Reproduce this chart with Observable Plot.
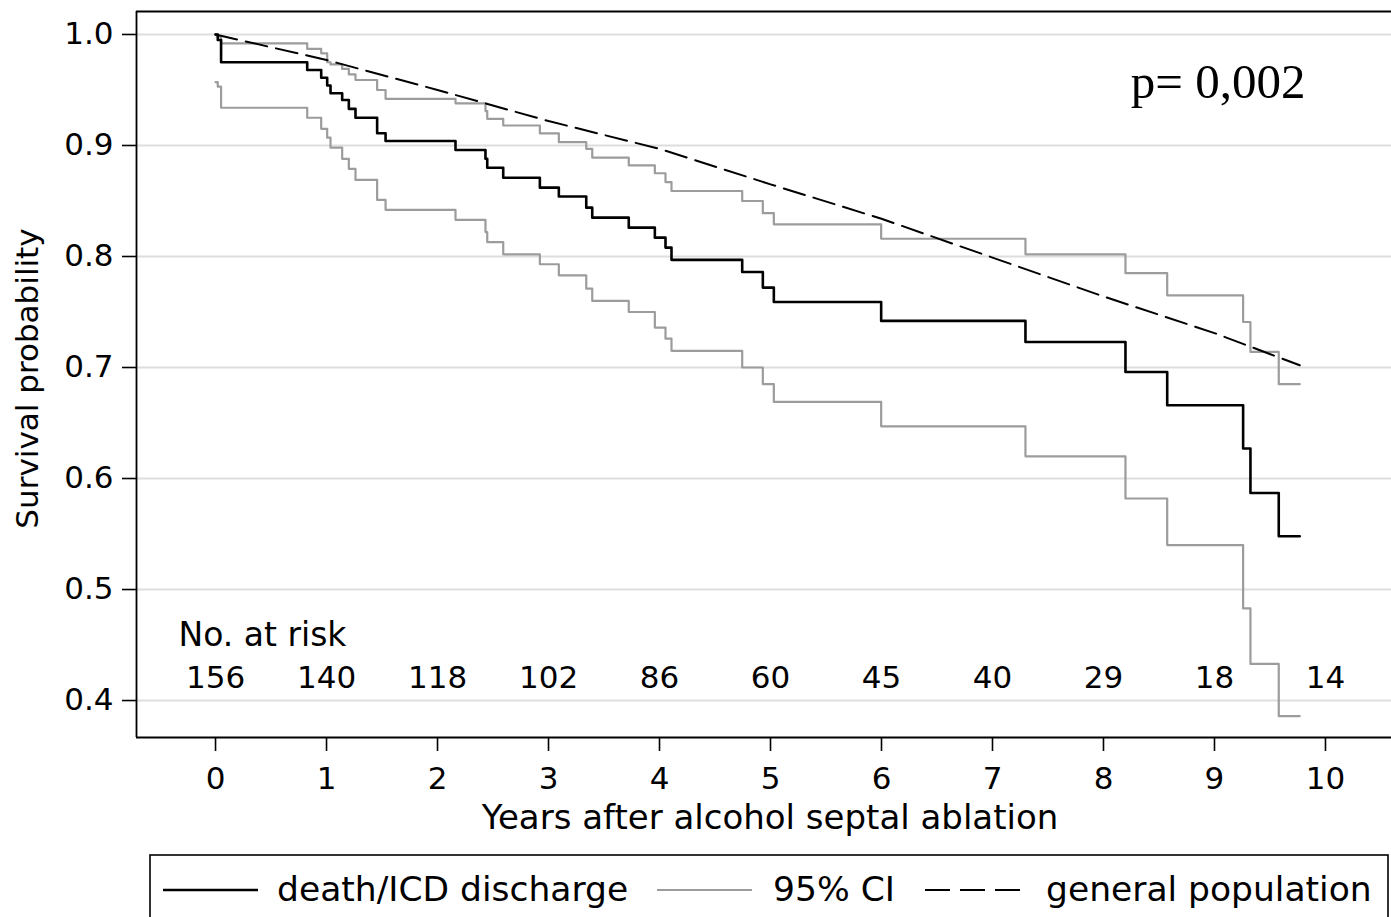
<!DOCTYPE html>
<html>
<head>
<meta charset="utf-8">
<script src="https://cdn.jsdelivr.net/npm/d3@7"></script>
<script src="https://cdn.jsdelivr.net/npm/@observablehq/plot@0.6"></script>
<style>
  html, body { margin: 0; padding: 0; background: #fff; overflow: hidden; }
  #chart { width: 1391px; overflow: hidden; }
  #chart svg { display: block; max-width: none !important; }
</style>
</head>
<body>
<div id="chart"></div>
<script>
// ---- data ----
const stepYears = [0, 0.02, 0.05, 0.826, 0.952, 1.006, 1.036, 1.141, 1.201, 1.261, 1.456, 1.532,
  2.162, 2.432, 2.448, 2.592, 2.922, 3.093, 3.340, 3.394, 3.723, 3.958, 4.054, 4.108,
  4.745, 4.931, 5.030, 5.997, 7.297, 8.198, 8.574, 9.258, 9.324, 9.579, 9.768];
const deathICD = [1.000, 0.995, 0.975, 0.968, 0.961, 0.954, 0.947, 0.941, 0.933, 0.925, 0.911, 0.904,
  0.896, 0.888, 0.880, 0.871, 0.862, 0.854, 0.844, 0.835, 0.826, 0.817, 0.808, 0.797,
  0.786, 0.772, 0.759, 0.742, 0.723, 0.696, 0.666, 0.627, 0.587, 0.548, 0.548];
const ciUpper = [1.000, 0.998, 0.992, 0.987, 0.983, 0.975, 0.973, 0.969, 0.964, 0.959, 0.950, 0.942,
  0.938, 0.931, 0.924, 0.918, 0.911, 0.903, 0.897, 0.889, 0.882, 0.875, 0.867, 0.859,
  0.850, 0.839, 0.829, 0.816, 0.802, 0.785, 0.765, 0.741, 0.714, 0.685, 0.685];
const ciLower = [0.957, 0.953, 0.934, 0.925, 0.915, 0.907, 0.898, 0.888, 0.879, 0.869, 0.851, 0.842,
  0.833, 0.822, 0.813, 0.802, 0.793, 0.783, 0.771, 0.760, 0.750, 0.736, 0.726, 0.715,
  0.700, 0.685, 0.669, 0.647, 0.620, 0.582, 0.540, 0.483, 0.433, 0.386, 0.386];
const popYears = [0, 1, 2, 3, 4, 5, 6, 7, 8, 9, 9.768];
const popSurv = [1.000, 0.977, 0.950, 0.922, 0.897, 0.865, 0.834, 0.799, 0.764, 0.731, 0.702];
const riskYears = [0, 1, 2, 3, 4, 5, 6, 7, 8, 9, 10];
const atRisk = [156, 140, 118, 102, 86, 60, 45, 40, 29, 18, 14];
const xTicks = [0, 1, 2, 3, 4, 5, 6, 7, 8, 9, 10];
const yTicks = [0.4, 0.5, 0.6, 0.7, 0.8, 0.9, 1.0];
const xDomain = [-0.712, 10.775];
const yDomain = [0.3667, 1.0207];
const pLabel = ["p= 0,002"];
const riskTitle = ["No. at risk"];
const xTitle = ["Years after alcohol septal ablation"];
const yTitle = ["Survival probability"];
const legendItems = ["death/ICD discharge", "95% CI", "general population"];

const rows = (xs, ys) => xs.map((x, i) => ({x, y: ys[i]}));

const PW = 1420, W = 1391, H = 845;
const font = "DejaVu Sans";
const MR = 9; // frame runs past the visible right edge (range ends at 1411), as in the reference

const plot = Plot.plot({
  width: PW,
  height: H,
  marginLeft: 136,
  marginRight: MR,
  marginTop: 11,
  marginBottom: 108,
  x: {domain: xDomain},
  y: {domain: yDomain},
  style: {fontFamily: font, fontSize: "31px", color: "black", background: "white", maxWidth: "none"},
  marks: [
    Plot.gridY(yTicks, {stroke: "#dedede", strokeOpacity: 1, strokeWidth: 2}),
    Plot.ruleY(yDomain, {stroke: "black", strokeWidth: 1.8}),
    Plot.ruleX([xDomain[0]], {y1: yDomain[0], y2: yDomain[1], stroke: "black", strokeWidth: 1.8}),
    Plot.axisY(yTicks, {tickSize: 14, tickPadding: 9, tickFormat: d3.format(".1f"), label: null,
      fontSize: 31, strokeWidth: 1.6}),
    Plot.axisX(xTicks, {tickSize: 14, tickPadding: 15, label: null, fontSize: 31, strokeWidth: 1.6}),
    Plot.line(rows(stepYears, ciUpper), {x: "x", y: "y", curve: "step-after", stroke: "#9c9c9c", strokeWidth: 2.2}),
    Plot.line(rows(stepYears, ciLower), {x: "x", y: "y", curve: "step-after", stroke: "#9c9c9c", strokeWidth: 2.2}),
    Plot.line(rows(popYears, popSurv), {x: "x", y: "y", stroke: "black", strokeWidth: 2, strokeDasharray: "22,9"}),
    Plot.line(rows(stepYears, deathICD), {x: "x", y: "y", curve: "step-after", stroke: "black", strokeWidth: 2.6}),
    Plot.text(atRisk, {x: riskYears, text: d => String(d), frameAnchor: "bottom", dy: -59,
      lineAnchor: "middle", fontSize: 31, fill: "black"}),
    Plot.text(riskTitle, {text: d => d, frameAnchor: "bottom-left", dx: 42, dy: -102,
      textAnchor: "start", lineAnchor: "middle", fontSize: 33, fill: "black"}),
    Plot.text(pLabel, {text: d => d, frameAnchor: "top-right", dx: -106, dy: 86,
      textAnchor: "end", lineAnchor: "bottom", fontSize: 49, fontFamily: "Liberation Serif", fill: "black"}),
    Plot.text(xTitle, {text: d => d, frameAnchor: "bottom", dx: -4, dy: 91,
      textAnchor: "middle", lineAnchor: "bottom", fontSize: 34, fill: "black"}),
    Plot.text(yTitle, {text: d => d, frameAnchor: "left", dx: -99, dy: 4, rotate: -90,
      textAnchor: "middle", lineAnchor: "bottom", fontSize: 31, fill: "black"})
  ]
});
document.getElementById("chart").appendChild(plot);

// ---- legend below the plot ----
const LH = 917 - H;
const leg = d3.select("#chart").append("svg")
  .attr("width", W).attr("height", LH)
  .style("display", "block")
  .style("font-family", font);
leg.append("rect")
  .attr("x", 150).attr("y", 10).attr("width", 1238).attr("height", 120)
  .attr("fill", "white").attr("stroke", "black").attr("stroke-width", 1.6);
const lineY = 45, textY = 56;
const samples = [
  {x1: 163, x2: 258, stroke: "black", w: 2.5, dash: null, tx: 277},
  {x1: 657, x2: 752, stroke: "#9c9c9c", w: 2.2, dash: null, tx: 773},
  {x1: 925, x2: 1020, stroke: "black", w: 2, dash: "25,10", tx: 1046}
];
samples.forEach((s, i) => {
  leg.append("line").attr("x1", s.x1).attr("x2", s.x2).attr("y1", lineY).attr("y2", lineY)
    .attr("stroke", s.stroke).attr("stroke-width", s.w).attr("stroke-dasharray", s.dash);
  leg.append("text").attr("x", s.tx).attr("y", textY).attr("font-size", 34.5)
    .attr("fill", "black").text(legendItems[i]);
});
</script>
</body>
</html>
